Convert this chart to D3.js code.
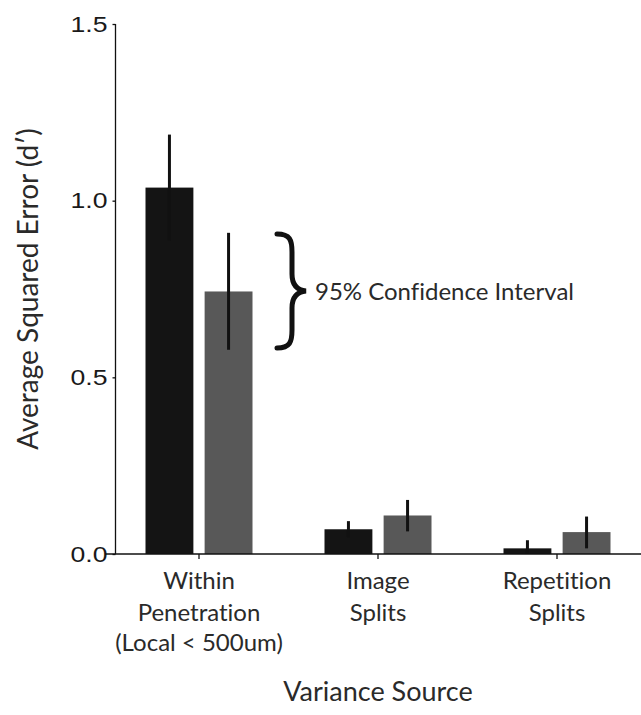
<!DOCTYPE html>
<html>
<head>
<meta charset="utf-8">
<script src="https://cdn.jsdelivr.net/npm/d3@7"></script>
<style>
  html, body { margin: 0; padding: 0; background: #fff; }
  svg { display: block; }
  text { font-variant-ligatures: none; }
</style>
</head>
<body>
<svg id="chart" width="641" height="715"></svg>
<script>
// ---- data ----
const categories = ["Within Penetration (Local < 500um)", "Image Splits", "Repetition Splits"];
const categoryLines = [["Within", "Penetration", "(Local < 500um)"], ["Image", "Splits"], ["Repetition", "Splits"]];
const series = ["black", "gray"];
const blackValues = [1.037, 0.070, 0.016];
const blackLow    = [0.887, 0.047, 0.000];
const blackHigh   = [1.187, 0.093, 0.039];
const grayValues  = [0.743, 0.109, 0.062];
const grayLow     = [0.578, 0.064, 0.016];
const grayHigh    = [0.909, 0.153, 0.106];
const yTicks = [0, 0.5, 1.0, 1.5];
const yTickLabels = ["0.0", "0.5", "1.0", "1.5"];
const yTitle = "Average Squared Error (d\u2032)";
const xTitle = "Variance Source";
const annotation = "95% Confidence Interval";

const seriesData = {
  black: { values: blackValues, low: blackLow, high: blackHigh, color: "#141414" },
  gray:  { values: grayValues,  low: grayLow,  high: grayHigh,  color: "#585858" }
};

// ---- layout ----
const svg = d3.select("#chart");
const font = "Lato, 'Open Sans', sans-serif";
const textColor = "#2a2a2a";
const axisX = 115.5;
const y = d3.scaleLinear().domain([0, 1.5]).range([554, 24]);
const x = d3.scaleBand().domain(categories).range([109.5, 646.5]).padding(0);
const xSub = d3.scaleBand().domain(series).range([-53.5, 53.5]).paddingInner(0.19);

const rows = [];
categories.forEach((c, i) => {
  series.forEach(s => {
    const d = seriesData[s];
    rows.push({ cat: c, s, v: d.values[i], lo: d.low[i], hi: d.high[i], color: d.color });
  });
});

const cx = d => x(d.cat) + x.bandwidth() / 2 + xSub(d.s);

// bars
svg.append("g").selectAll("rect").data(rows).join("rect")
  .attr("x", d => cx(d))
  .attr("width", xSub.bandwidth())
  .attr("y", d => y(d.v))
  .attr("height", d => y(0) - y(d.v))
  .attr("fill", d => d.color);

// error bars
svg.append("g").selectAll("line").data(rows).join("line")
  .attr("x1", d => cx(d) + xSub.bandwidth() / 2)
  .attr("x2", d => cx(d) + xSub.bandwidth() / 2)
  .attr("y1", d => y(d.lo))
  .attr("y2", d => y(d.hi))
  .attr("stroke", "#111")
  .attr("stroke-width", 3);

// y axis
const yAxis = d3.axisLeft(y).tickValues(yTicks).tickFormat((d, i) => yTickLabels[i]).tickSize(3).tickPadding(5);
const gy = svg.append("g").attr("transform", `translate(${axisX},0)`).call(yAxis);
gy.select(".domain").attr("d", `M0,${y(1.5)}V${y(0)}`).attr("stroke", "#111").attr("stroke-width", 1.3);
gy.selectAll(".tick line").attr("stroke", "#111").attr("stroke-width", 1.3);
gy.selectAll(".tick text")
  .attr("font-family", "'Liberation Sans', Arial, sans-serif")
  .attr("font-size", 22)
  .attr("fill", "#1a1a1a")
  .attr("dy", "0.33em")
  .attr("textLength", 37)
  .attr("lengthAdjust", "spacingAndGlyphs");

// x axis
const xAxis = d3.axisBottom(x).tickSize(5).tickFormat("");
const gx = svg.append("g").attr("transform", `translate(0,${y(0)})`).call(xAxis);
gx.select(".domain").attr("d", `M105,0H641`).attr("stroke", "#111").attr("stroke-width", 1.5);
gx.selectAll(".tick line").attr("stroke", "#111").attr("stroke-width", 1.3);

// category labels
const lineBaselines = [589, 621, 651];
categories.forEach((c, i) => {
  const t = svg.append("text")
    .attr("text-anchor", "middle")
    .attr("font-family", font)
    .attr("font-size", 24)
    .attr("fill", textColor);
  categoryLines[i].forEach((ln, j) => {
    t.append("tspan").attr("x", x(c) + x.bandwidth() / 2).attr("y", lineBaselines[j]).text(ln);
  });
});

// axis titles
svg.append("text")
  .attr("transform", `translate(38,${289}) rotate(-90)`)
  .attr("text-anchor", "middle")
  .attr("font-family", font)
  .attr("font-size", 28)
  .attr("fill", textColor)
  .text(yTitle);

svg.append("text")
  .attr("x", 378).attr("y", 701)
  .attr("text-anchor", "middle")
  .attr("font-family", font)
  .attr("font-size", 27)
  .attr("fill", textColor)
  .text(xTitle);

// brace annotation
svg.append("path")
  .attr("d", "M277,234 C290,234 292,240 292,252 L292,274 C292,284 296,290 306,291 C296,292 292,298 292,308 L292,330 C292,342 290,348 277,348")
  .attr("fill", "none")
  .attr("stroke", "#111")
  .attr("stroke-width", 5)
  .attr("stroke-linecap", "round");

svg.append("text")
  .attr("x", 315).attr("y", 300)
  .attr("font-family", font)
  .attr("font-size", 24)
  .attr("fill", textColor)
  .text(annotation);
</script>
</body>
</html>
